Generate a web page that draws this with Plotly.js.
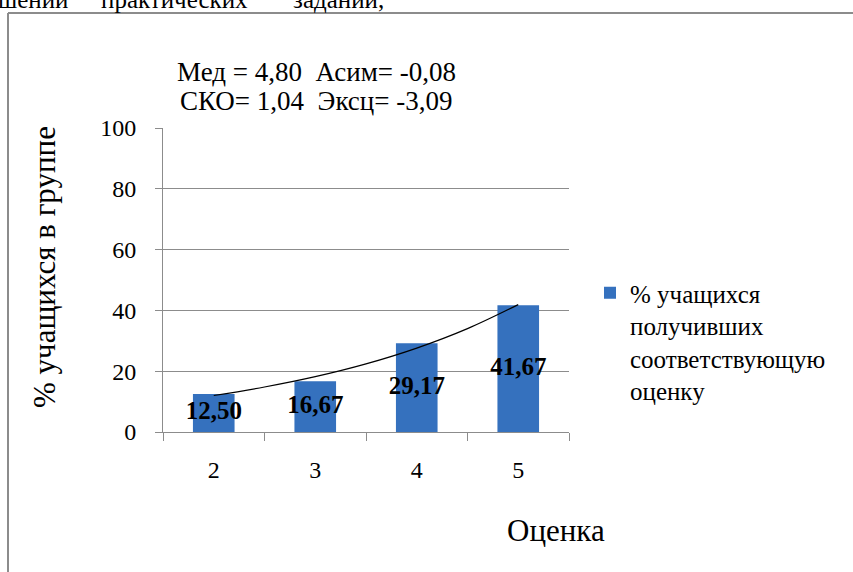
<!DOCTYPE html>
<html>
<head>
<meta charset="utf-8">
<script src="https://cdn.plot.ly/plotly-3.0.1.min.js"></script>
<style>
  html, body { margin:0; padding:0; background:#fff; overflow:hidden; }
  #wrap { position:relative; width:853px; height:572px; }
  #chart { position:absolute; left:0; top:0; width:853px; height:572px; }
  .pg { position:absolute; top:-12px; font-family:"Liberation Serif"; font-size:25px; line-height:24px; color:#000; white-space:nowrap; z-index:5; }
</style>
</head>
<body>
<div id="wrap">
  <div id="chart"></div>
  <span class="pg" style="left:-2px">шений</span>
  <span class="pg" style="left:101px">практических</span>
  <span class="pg" style="left:293px">заданий,</span>
</div>
<script>
// Data
const grades = [2, 3, 4, 5];
const percents = [12.50, 16.67, 29.17, 41.67];
// Trend line
const trendX = [2, 2.5, 3, 3.5, 4, 4.5, 5];
const trendY = [12.0, 14.8, 18.2, 22.4, 27.6, 34.0, 41.9];
const yTicks = [0, 20, 40, 60, 80, 100];
const seriesName = '% учащихся<br>получивших<br>соответствующую<br>оценку';
const statsLine1 = 'Мед = 4,80\u00a0\u00a0Асим= -0,08';
const statsLine2 = 'СКО= 1,04\u00a0\u00a0Эксц= -3,09';
const yTitle = '% учащихся в группе';
const xTitle = 'Оценка';

const W = 853, H = 572;
const px = v => v / W;
const py = v => 1 - v / H;
const serif = 'Liberation Serif';
const gray = '#8c8c8c';

const labels = percents.map(v => v.toFixed(2).replace('.', ','));

const traces = [
  {
    type: 'bar', x: grades, y: percents, name: seriesName, width: 0.41,
    marker: { color: '#3571BE', line: { width: 0 } },
    hoverinfo: 'skip'
  },
  {
    type: 'scatter', mode: 'lines', x: trendX, y: trendY, showlegend: false,
    line: { color: '#000', width: 1.2, shape: 'spline' }, hoverinfo: 'skip'
  },
  {
    type: 'scatter', mode: 'text', x: grades, y: percents.map(v => v / 2),
    text: labels, textposition: 'middle center', showlegend: false,
    textfont: { family: serif, size: 25, color: '#000', weight: 'bold' },
    hoverinfo: 'skip'
  }
];

const layout = {
  width: W, height: H,
  margin: { l: 0, r: 0, t: 0, b: 0 },
  paper_bgcolor: '#fff', plot_bgcolor: '#fff',
  showlegend: true,
  font: { family: serif, color: '#000' },
  xaxis: {
    domain: [px(163), px(569)],
    range: [1.5, 5.5], type: 'linear',
    tickmode: 'array', tickvals: grades, ticktext: grades.map(String),
    ticks: '', showgrid: false, zeroline: false,
    showline: true, linecolor: gray, linewidth: 1,
    tickfont: { family: serif, size: 24, color: '#000' },
    ticklabelstandoff: 16,
    minor: { tickmode: 'array', tickvals: [1.5, 2.5, 3.5, 4.5, 5.5], ticks: 'outside', ticklen: 8, tickcolor: gray, tickwidth: 1, showgrid: false },
    fixedrange: true
  },
  yaxis: {
    domain: [py(432), py(128)],
    range: [0, 100], tickmode: 'array', tickvals: yTicks,
    ticks: 'outside', ticklen: 7, tickcolor: gray, tickwidth: 1,
    showgrid: true, gridcolor: gray, gridwidth: 1,
    zeroline: false, showline: true, linecolor: gray, linewidth: 1,
    tickfont: { family: serif, size: 24, color: '#000' },
    ticklabelstandoff: 14,
    fixedrange: true
  },
  legend: {
    x: px(590), y: py(270), xanchor: 'left', yanchor: 'top',
    valign: 'top', itemwidth: 30, bgcolor: 'rgba(0,0,0,0)',
    font: { family: serif, size: 25, color: '#000' }
  },
  annotations: [
    { xref: 'paper', yref: 'paper', x: px(316), y: py(72), text: statsLine1, showarrow: false,
      font: { family: serif, size: 27, color: '#000' }, xanchor: 'center', yanchor: 'middle' },
    { xref: 'paper', yref: 'paper', x: px(316), y: py(101), text: statsLine2, showarrow: false,
      font: { family: serif, size: 27, color: '#000' }, xanchor: 'center', yanchor: 'middle' },
    { xref: 'paper', yref: 'paper', x: px(44), y: py(267), text: yTitle, showarrow: false, textangle: -90,
      font: { family: serif, size: 31, color: '#000' }, xanchor: 'center', yanchor: 'middle' },
    { xref: 'paper', yref: 'paper', x: px(556), y: py(530), text: xTitle, showarrow: false,
      font: { family: serif, size: 31, color: '#000' }, xanchor: 'center', yanchor: 'middle' }
  ],
  shapes: [
    { type: 'line', xref: 'paper', yref: 'paper', x0: px(8), x1: px(8), y0: py(13), y1: -0.1,
      line: { color: gray, width: 2 } },
    { type: 'line', xref: 'paper', yref: 'paper', x0: px(8), x1: 1.1, y0: py(13), y1: py(13),
      line: { color: gray, width: 2 } }
  ]
};

Plotly.newPlot('chart', traces, layout, { staticPlot: true, displayModeBar: false });
</script>
</body>
</html>
